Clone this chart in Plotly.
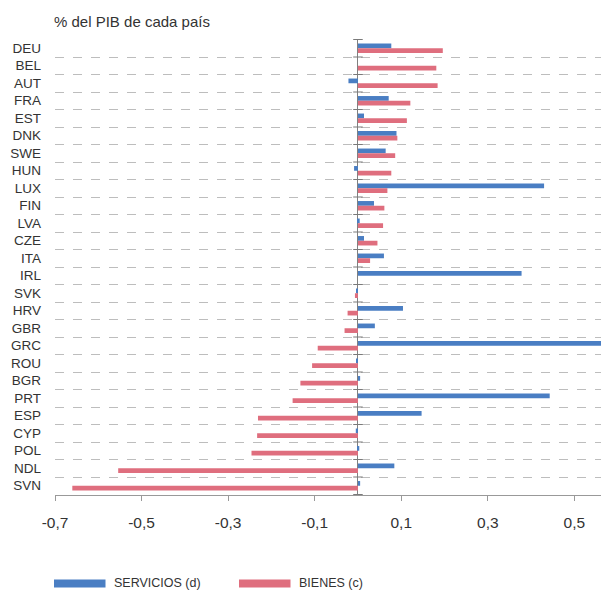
import plotly.graph_objects as go

countries = ["DEU", "BEL", "AUT", "FRA", "EST", "DNK", "SWE", "HUN", "LUX", "FIN",
             "LVA", "CZE", "ITA", "IRL", "SVK", "HRV", "GBR", "GRC", "ROU", "BGR",
             "PRT", "ESP", "CYP", "POL", "NDL", "SVN"]
servicios = [0.077, 0.0, -0.022, 0.071, 0.014, 0.089, 0.064, -0.009, 0.430, 0.037,
             0.004, 0.014, 0.060, 0.378, -0.003, 0.104, 0.039, 0.59, -0.003, 0.005,
             0.443, 0.147, -0.005, 0.003, 0.084, 0.005]
bienes = [0.196, 0.181, 0.184, 0.121, 0.113, 0.091, 0.086, 0.077, 0.068, 0.061,
          0.058, 0.045, 0.028, 0.0, -0.007, -0.024, -0.031, -0.093, -0.106, -0.133,
          -0.151, -0.231, -0.233, -0.246, -0.554, -0.660]
tick_vals = [-0.7, -0.5, -0.3, -0.1, 0.1, 0.3, 0.5]
tick_text = ["-0,7", "-0,5", "-0,3", "-0,1", "0,1", "0,3", "0,5"]
series_names = ["SERVICIOS (d)", "BIENES (c)"]

BLUE = "#4A7EC3"
RED = "#DF6E7E"
TXT = "#333333"
FONT = "Liberation Sans, Arial, Helvetica, sans-serif"
NARROW = "Liberation Sans Narrow, Arial Narrow, Liberation Sans, sans-serif"

OFF = 8  # page body margin offset
W, H = 609 - OFF, 590 - OFF
# plot area in window pixels: x 55..609, y 39..495
ml, mr, mt, mb = 55 - OFF, 0, 39 - OFF, 590 - 495
pw, ph = W - ml - mr, H - mt - mb

def px_x(x):
    return (x - OFF - ml) / pw

def px_y(y):
    return (H - (y - OFF) - mb) / ph

fig = go.Figure()
fig.add_trace(go.Bar(y=countries, x=servicios, orientation="h", name=series_names[0],
                     marker=dict(color=BLUE, line=dict(width=0))))
fig.add_trace(go.Bar(y=countries, x=bienes, orientation="h", name=series_names[1],
                     marker=dict(color=RED, line=dict(width=0))))

shapes = []
# small tick marks crossing the zero axis at category boundaries
for i in range(len(countries) + 1):
    shapes.append(dict(type="line", xref="x", yref="y", x0=-0.011, x1=0.011,
                       y0=i - 0.5, y1=i - 0.5, line=dict(color="#7a7a7a", width=1)))
# legend swatches
shapes.append(dict(type="rect", xref="paper", yref="paper", x0=px_x(54), x1=px_x(105.5),
                   y0=px_y(587.5), y1=px_y(579.5), fillcolor=BLUE, line=dict(width=0)))
shapes.append(dict(type="rect", xref="paper", yref="paper", x0=px_x(239), x1=px_x(290.5),
                   y0=px_y(587.5), y1=px_y(579.5), fillcolor=RED, line=dict(width=0)))

annotations = [
    dict(text="% del PIB de cada país", xref="paper", yref="paper", x=px_x(52), y=px_y(21.5),
         xanchor="left", yanchor="middle", showarrow=False, font=dict(size=15, color=TXT, family=FONT)),
    dict(text=series_names[0], xref="paper", yref="paper", x=px_x(112), y=px_y(583),
         xanchor="left", yanchor="middle", showarrow=False, font=dict(size=12.5, color=TXT, family=NARROW)),
    dict(text=series_names[1], xref="paper", yref="paper", x=px_x(296.5), y=px_y(583),
         xanchor="left", yanchor="middle", showarrow=False, font=dict(size=12.5, color=TXT, family=NARROW)),
]

fig.update_layout(
    width=W, height=H,
    margin=dict(l=ml, r=mr, t=mt, b=mb, pad=0),
    paper_bgcolor="white", plot_bgcolor="white",
    barmode="group", bargap=0.46, bargroupgap=0,
    showlegend=False,
    font=dict(family=FONT, color=TXT),
    shapes=shapes, annotations=annotations,
    xaxis=dict(range=[-0.7, 0.58], tickvals=tick_vals, ticktext=tick_text,
               showgrid=False, zeroline=True, zerolinecolor="#808080", zerolinewidth=1,
               showline=True, linecolor="#999999", linewidth=1,
               ticks="outside", ticklen=5, tickcolor="#999999",
               ticklabelstandoff=8,
               tickfont=dict(size=15.5, color=TXT, family=FONT)),
    yaxis=dict(type="category", autorange="reversed", tickson="boundaries",
               showgrid=True, gridcolor="#bdbdbd", gridwidth=1, griddash="dash",
               ticks="", showline=False, zeroline=False,
               ticklabelstandoff=13,
               tickfont=dict(size=13.5, color=TXT, family=FONT)),
)

fig.write_html("out.html")
